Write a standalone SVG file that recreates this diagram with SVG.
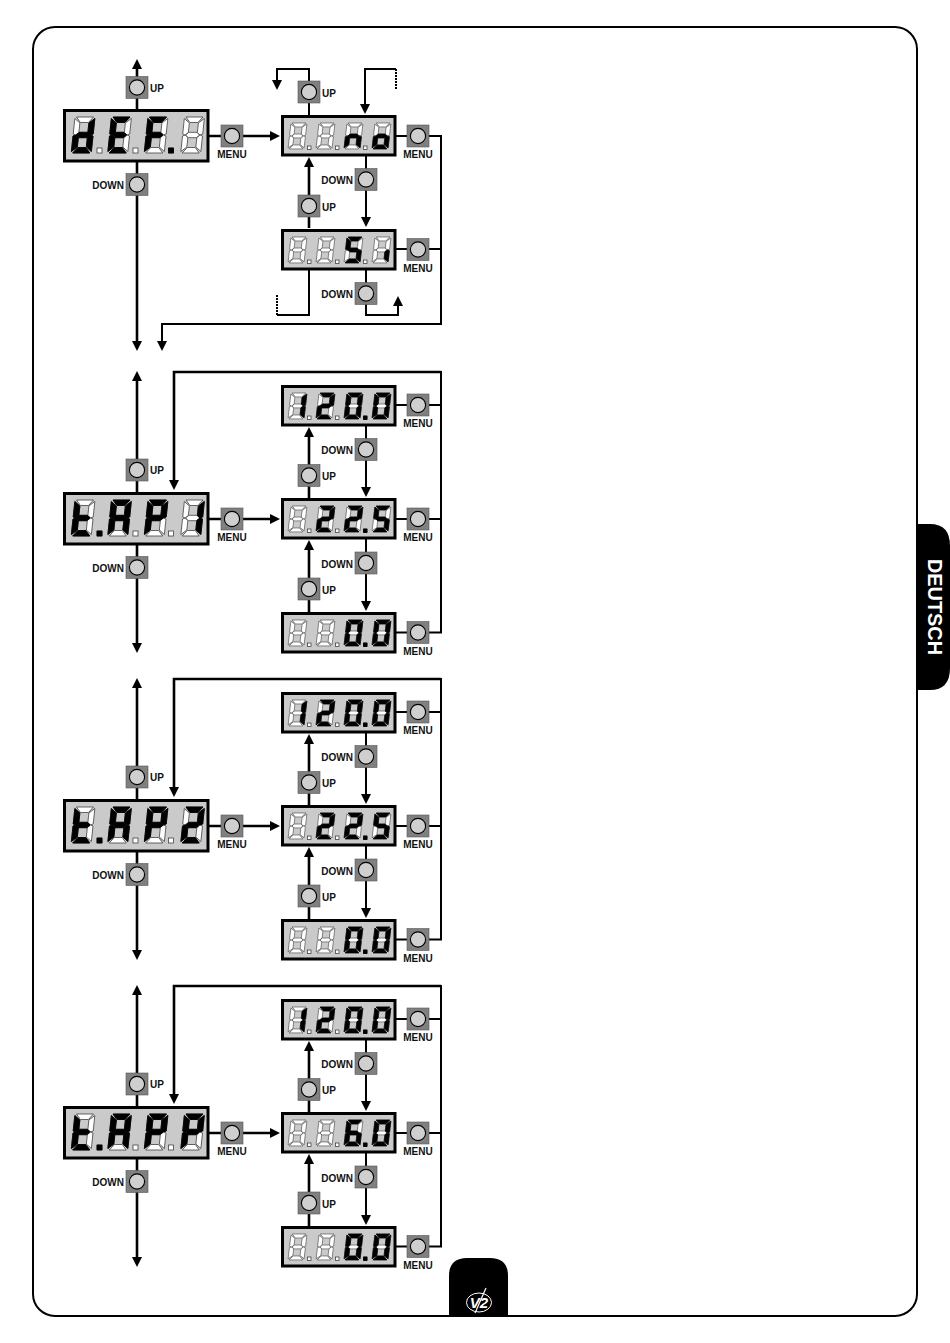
<svg xmlns="http://www.w3.org/2000/svg" width="950" height="1343" viewBox="0 0 950 1343">
<style>
.l{font-family:"Liberation Sans",Arial,sans-serif;font-weight:700;font-size:10px;fill:#111}
.e{text-anchor:end}.m{text-anchor:middle}
.c{fill:none;stroke:#000;stroke-width:2}
.t{stroke-width:2.6}
.d{stroke-dasharray:2 1}
.g{fill:#fff;stroke:#444;stroke-width:.8}
.k{fill:#000;stroke:#000;stroke-width:.8;stroke-linejoin:round}
.p{fill:#cacaca;stroke:#000;stroke-width:3}
</style>
<defs>
<marker id="ah" markerUnits="userSpaceOnUse" markerWidth="12" markerHeight="12" refX="1" refY="6" orient="auto-start-reverse"><path d="M0 1L10 6L0 11z" fill="#000"/></marker>
<g id="b"><rect x="-11" y="-11" width="22" height="22" fill="#808080" stroke="#555" stroke-width=".6"/><circle r="7.6" fill="#cfcfcf" stroke="#000" stroke-width="1.1"/></g>
<polygon id="sa" points="1.500,0 18.500,0 14,5.500 6,5.500"/>
<polygon id="sb" points="20,1.500 20,17 17.500,18 14.500,15.500 14.500,6"/>
<polygon id="sc" points="20,34.500 20,19 17.500,18 14.500,20.500 14.500,30"/>
<polygon id="sd" points="1.500,36 18.500,36 14,30.500 6,30.500"/>
<polygon id="se" points="0,34.500 0,19 2.500,18 5.500,20.500 5.500,30"/>
<polygon id="sf" points="0,1.500 0,17 2.500,18 5.500,15.500 5.500,6"/>
<polygon id="sg" points="3,18 6,15.300 14,15.300 17,18 14,20.700 6,20.700"/>
<g id="G" class="g" transform="skewX(-6)"><use href="#sa"/><use href="#sb"/><use href="#sc"/><use href="#sd"/><use href="#se"/><use href="#sf"/><use href="#sg"/></g>
<g id="Ld" class="k" transform="skewX(-6)"><use href="#sb"/><use href="#sc"/><use href="#sd"/><use href="#se"/><use href="#sg"/></g>
<g id="LE" class="k" transform="skewX(-6)"><use href="#sa"/><use href="#sd"/><use href="#se"/><use href="#sf"/><use href="#sg"/></g>
<g id="LF" class="k" transform="skewX(-6)"><use href="#sa"/><use href="#se"/><use href="#sf"/><use href="#sg"/></g>
<g id="Ln" class="k" transform="skewX(-6)"><use href="#sc"/><use href="#se"/><use href="#sg"/></g>
<g id="Lo" class="k" transform="skewX(-6)"><use href="#sc"/><use href="#sd"/><use href="#se"/><use href="#sg"/></g>
<g id="LS" class="k" transform="skewX(-6)"><use href="#sa"/><use href="#sc"/><use href="#sd"/><use href="#sf"/><use href="#sg"/></g>
<g id="Li" class="k" transform="skewX(-6)"><use href="#sc"/></g>
<g id="Lt" class="k" transform="skewX(-6)"><use href="#sd"/><use href="#se"/><use href="#sf"/><use href="#sg"/></g>
<g id="LA" class="k" transform="skewX(-6)"><use href="#sa"/><use href="#sb"/><use href="#sc"/><use href="#se"/><use href="#sf"/><use href="#sg"/></g>
<g id="LP" class="k" transform="skewX(-6)"><use href="#sa"/><use href="#sb"/><use href="#se"/><use href="#sf"/><use href="#sg"/></g>
<g id="L1" class="k" transform="skewX(-6)"><use href="#sb"/><use href="#sc"/></g>
<g id="L2" class="k" transform="skewX(-6)"><use href="#sa"/><use href="#sb"/><use href="#sd"/><use href="#se"/><use href="#sg"/></g>
<g id="L0" class="k" transform="skewX(-6)"><use href="#sa"/><use href="#sb"/><use href="#sc"/><use href="#sd"/><use href="#se"/><use href="#sf"/></g>
<g id="L5" class="k" transform="skewX(-6)"><use href="#sa"/><use href="#sc"/><use href="#sd"/><use href="#sf"/><use href="#sg"/></g>
<g id="L6" class="k" transform="skewX(-6)"><use href="#sa"/><use href="#sc"/><use href="#sd"/><use href="#se"/><use href="#sf"/><use href="#sg"/></g>
<g id="big"><rect class="p" x="1.500" y="1.500" width="143.500" height="50.500"/>
<use href="#G" x="12" y="8"/><use href="#G" x="48.500" y="8"/><use href="#G" x="85" y="8"/><use href="#G" x="121.500" y="8"/>
<rect class="g" x="34" y="39" width="5" height="5"/><rect class="g" x="70" y="39" width="5" height="5"/><rect class="g" x="105.500" y="39" width="5" height="5"/></g>
<g id="sm"><rect class="p" x="1.500" y="1.500" width="112.500" height="38.500"/>
<g transform="translate(10,8) scale(.8,.72)"><use href="#G"/></g><g transform="translate(38,8) scale(.8,.72)"><use href="#G"/></g><g transform="translate(66,8) scale(.8,.72)"><use href="#G"/></g><g transform="translate(94,8) scale(.8,.72)"><use href="#G"/></g>
<rect class="g" x="26.500" y="31" width="3.500" height="3.500"/><rect class="g" x="54.500" y="31" width="3.500" height="3.500"/><rect class="g" x="82.500" y="31" width="3.500" height="3.500"/></g>
<g id="c2">
<path class="c t" d="M137 380V644" marker-start="url(#ah)" marker-end="url(#ah)"/>
<path class="c t" d="M209 519H271" marker-end="url(#ah)"/>
<path class="c t" d="M441 372H174V481" marker-end="url(#ah)"/>
<path class="c" d="M396 405H441M396 519H441M441 371V632.500H396"/>
<path class="c" d="M366 426V488" marker-end="url(#ah)"/>
<path class="c" d="M366 539V602" marker-end="url(#ah)"/>
<path class="c t" d="M309 498V436" marker-end="url(#ah)"/>
<path class="c t" d="M309 612V549" marker-end="url(#ah)"/>
</g>
<g id="v120"><use href="#sm"/><g transform="translate(10,8) scale(.8,.72)"><use href="#L1"/></g><g transform="translate(38,8) scale(.8,.72)"><use href="#L2"/></g><g transform="translate(66,8) scale(.8,.72)"><use href="#L0"/></g><g transform="translate(94,8) scale(.8,.72)"><use href="#L0"/></g><rect class="k" x="82.500" y="31" width="3.500" height="3.500"/></g>
<g id="v225"><use href="#sm"/><g transform="translate(38,8) scale(.8,.72)"><use href="#L2"/></g><g transform="translate(66,8) scale(.8,.72)"><use href="#L2"/></g><g transform="translate(94,8) scale(.8,.72)"><use href="#L5"/></g><rect class="k" x="82.500" y="31" width="3.500" height="3.500"/></g>
<g id="v60"><use href="#sm"/><g transform="translate(66,8) scale(.8,.72)"><use href="#L6"/></g><g transform="translate(94,8) scale(.8,.72)"><use href="#L0"/></g><rect class="k" x="82.500" y="31" width="3.500" height="3.500"/></g>
<g id="v00"><use href="#sm"/><g transform="translate(66,8) scale(.8,.72)"><use href="#L0"/></g><g transform="translate(94,8) scale(.8,.72)"><use href="#L0"/></g><rect class="k" x="82.500" y="31" width="3.500" height="3.500"/></g>
</defs>
<rect width="950" height="1343" fill="#fff"/>
<rect id="frame" x="33" y="27" width="884" height="1289" rx="22" fill="none" stroke="#000" stroke-width="2"/>
<g id="language-tab"><path d="M917 524H930Q950 524 950 546V668Q950 690 930 690H917z" fill="#000"/><text transform="translate(928,607) rotate(90)" text-anchor="middle" font-family="'Liberation Sans',Arial,sans-serif" font-weight="700" font-size="21" textLength="96" lengthAdjust="spacingAndGlyphs" fill="#fff">DEUTSCH</text></g>
<g id="logo-tab"><path d="M449 1316V1276Q449 1258 467 1258H490Q508 1258 508 1276V1316z" fill="#000"/><ellipse cx="479" cy="1302.500" rx="12.500" ry="9.500" fill="none" stroke="#fff" stroke-width="1"/><path d="M486 1288L475 1313" stroke="#fff" stroke-width="1.200"/><text x="479" y="1308" text-anchor="middle" font-family="'Liberation Sans',Arial,sans-serif" font-style="italic" font-weight="700" font-size="15" fill="#fff">V2</text></g>
<g id="connectors">
<path class="c t" d="M137 68V342" marker-start="url(#ah)" marker-end="url(#ah)"/>
<path class="c t" d="M209 136H271" marker-end="url(#ah)"/>
<path class="c" d="M309 115V69H277V81" marker-end="url(#ah)"/>
<path class="c" d="M396 69H365V105" marker-end="url(#ah)"/>
<path class="c d" d="M396 69V90"/>
<path class="c" d="M396 136H441V324H162V342" marker-end="url(#ah)"/>
<path class="c" d="M396 249H441"/>
<path class="c" d="M366 156V218" marker-end="url(#ah)"/>
<path class="c t" d="M309 228V166" marker-end="url(#ah)"/>
<path class="c" d="M309 270V315H277"/>
<path class="c d" d="M277 315V295"/>
<path class="c" d="M366 270V315H398V305" marker-end="url(#ah)"/>
<use href="#c2"/><use href="#c2" y="307"/><use href="#c2" y="614"/>
</g>
<g id="def-display" transform="translate(63,109)"><use href="#big"/><use href="#Ld" x="12" y="8"/><use href="#LE" x="48.500" y="8"/><use href="#LF" x="85" y="8"/><rect class="k" x="105.500" y="39" width="5" height="5"/></g>
<g id="def-up" transform="translate(137,87.500)"><use href="#b"/><text class="l" x="13" y="4">UP</text></g>
<g id="def-down" transform="translate(137,184.500)"><use href="#b"/><text class="l e" x="-13" y="4.500">DOWN</text></g>
<g id="def-menu" transform="translate(232,136)"><use href="#b"/><text class="l m" y="22">MENU</text></g>
<g id="no-display" transform="translate(281,115)"><use href="#sm"/><g transform="translate(66,8) scale(.8,.72)"><use href="#Ln"/></g><g transform="translate(94,8) scale(.8,.72)"><use href="#Lo"/></g></g>
<g id="no-up" transform="translate(309,92)"><use href="#b"/><text class="l" x="13" y="4.500">UP</text></g>
<g id="no-menu" transform="translate(418,136)"><use href="#b"/><text class="l m" y="22">MENU</text></g>
<g id="no-down" transform="translate(366,179.500)"><use href="#b"/><text class="l e" x="-13" y="4.500">DOWN</text></g>
<g id="si-up" transform="translate(309,206)"><use href="#b"/><text class="l" x="13" y="4.500">UP</text></g>
<g id="si-display" transform="translate(281,229)"><use href="#sm"/><g transform="translate(66,8) scale(.8,.72)"><use href="#LS"/></g><g transform="translate(94,8) scale(.8,.72)"><use href="#Li"/></g></g>
<g id="si-menu" transform="translate(418,249.500)"><use href="#b"/><text class="l m" y="22">MENU</text></g>
<g id="si-down" transform="translate(366,293.500)"><use href="#b"/><text class="l e" x="-13" y="4.500">DOWN</text></g>

<g id="tap1-display" transform="translate(63,492)"><use href="#big"/><use href="#Lt" x="12" y="8"/><rect class="k" x="34" y="39" width="5" height="5"/><use href="#LA" x="48.500" y="8"/><use href="#LP" x="85" y="8"/><use href="#L1" x="121.500" y="8"/></g>
<g id="tap1-up" transform="translate(137,470)"><use href="#b"/><text class="l" x="13" y="4">UP</text></g>
<g id="tap1-down" transform="translate(137,567.500)"><use href="#b"/><text class="l e" x="-13" y="4.500">DOWN</text></g>
<g id="tap1-menu" transform="translate(232,519)"><use href="#b"/><text class="l m" y="22">MENU</text></g>
<g id="tap1-max" transform="translate(281,385)"><use href="#v120"/></g>
<g id="tap1-max-menu" transform="translate(418,405)"><use href="#b"/><text class="l m" y="22">MENU</text></g>
<g id="tap1-max-down" transform="translate(366,449.500)"><use href="#b"/><text class="l e" x="-13" y="4.500">DOWN</text></g>
<g id="tap1-mid-up" transform="translate(309,475.500)"><use href="#b"/><text class="l" x="13" y="4.500">UP</text></g>
<g id="tap1-mid" transform="translate(281,498)"><use href="#v225"/></g>
<g id="tap1-mid-menu" transform="translate(418,519)"><use href="#b"/><text class="l m" y="22">MENU</text></g>
<g id="tap1-mid-down" transform="translate(366,563)"><use href="#b"/><text class="l e" x="-13" y="4.500">DOWN</text></g>
<g id="tap1-min-up" transform="translate(309,589)"><use href="#b"/><text class="l" x="13" y="4.500">UP</text></g>
<g id="tap1-min" transform="translate(281,612)"><use href="#v00"/></g>
<g id="tap1-min-menu" transform="translate(418,632.500)"><use href="#b"/><text class="l m" y="22">MENU</text></g>

<g id="tap2-display" transform="translate(63,799)"><use href="#big"/><use href="#Lt" x="12" y="8"/><rect class="k" x="34" y="39" width="5" height="5"/><use href="#LA" x="48.500" y="8"/><use href="#LP" x="85" y="8"/><use href="#L2" x="121.500" y="8"/></g>
<g id="tap2-up" transform="translate(137,777)"><use href="#b"/><text class="l" x="13" y="4">UP</text></g>
<g id="tap2-down" transform="translate(137,874.500)"><use href="#b"/><text class="l e" x="-13" y="4.500">DOWN</text></g>
<g id="tap2-menu" transform="translate(232,826)"><use href="#b"/><text class="l m" y="22">MENU</text></g>
<g id="tap2-max" transform="translate(281,692)"><use href="#v120"/></g>
<g id="tap2-max-menu" transform="translate(418,712)"><use href="#b"/><text class="l m" y="22">MENU</text></g>
<g id="tap2-max-down" transform="translate(366,756.500)"><use href="#b"/><text class="l e" x="-13" y="4.500">DOWN</text></g>
<g id="tap2-mid-up" transform="translate(309,782.500)"><use href="#b"/><text class="l" x="13" y="4.500">UP</text></g>
<g id="tap2-mid" transform="translate(281,805)"><use href="#v225"/></g>
<g id="tap2-mid-menu" transform="translate(418,826)"><use href="#b"/><text class="l m" y="22">MENU</text></g>
<g id="tap2-mid-down" transform="translate(366,870)"><use href="#b"/><text class="l e" x="-13" y="4.500">DOWN</text></g>
<g id="tap2-min-up" transform="translate(309,896)"><use href="#b"/><text class="l" x="13" y="4.500">UP</text></g>
<g id="tap2-min" transform="translate(281,919)"><use href="#v00"/></g>
<g id="tap2-min-menu" transform="translate(418,939.500)"><use href="#b"/><text class="l m" y="22">MENU</text></g>

<g id="tapp-display" transform="translate(63,1106)"><use href="#big"/><use href="#Lt" x="12" y="8"/><rect class="k" x="34" y="39" width="5" height="5"/><use href="#LA" x="48.500" y="8"/><use href="#LP" x="85" y="8"/><use href="#LP" x="121.500" y="8"/></g>
<g id="tapp-up" transform="translate(137,1084)"><use href="#b"/><text class="l" x="13" y="4">UP</text></g>
<g id="tapp-down" transform="translate(137,1181.500)"><use href="#b"/><text class="l e" x="-13" y="4.500">DOWN</text></g>
<g id="tapp-menu" transform="translate(232,1133)"><use href="#b"/><text class="l m" y="22">MENU</text></g>
<g id="tapp-max" transform="translate(281,999)"><use href="#v120"/></g>
<g id="tapp-max-menu" transform="translate(418,1019)"><use href="#b"/><text class="l m" y="22">MENU</text></g>
<g id="tapp-max-down" transform="translate(366,1063.500)"><use href="#b"/><text class="l e" x="-13" y="4.500">DOWN</text></g>
<g id="tapp-mid-up" transform="translate(309,1089.500)"><use href="#b"/><text class="l" x="13" y="4.500">UP</text></g>
<g id="tapp-mid" transform="translate(281,1112)"><use href="#v60"/></g>
<g id="tapp-mid-menu" transform="translate(418,1133)"><use href="#b"/><text class="l m" y="22">MENU</text></g>
<g id="tapp-mid-down" transform="translate(366,1177)"><use href="#b"/><text class="l e" x="-13" y="4.500">DOWN</text></g>
<g id="tapp-min-up" transform="translate(309,1203)"><use href="#b"/><text class="l" x="13" y="4.500">UP</text></g>
<g id="tapp-min" transform="translate(281,1226)"><use href="#v00"/></g>
<g id="tapp-min-menu" transform="translate(418,1246.500)"><use href="#b"/><text class="l m" y="22">MENU</text></g>
</svg>
